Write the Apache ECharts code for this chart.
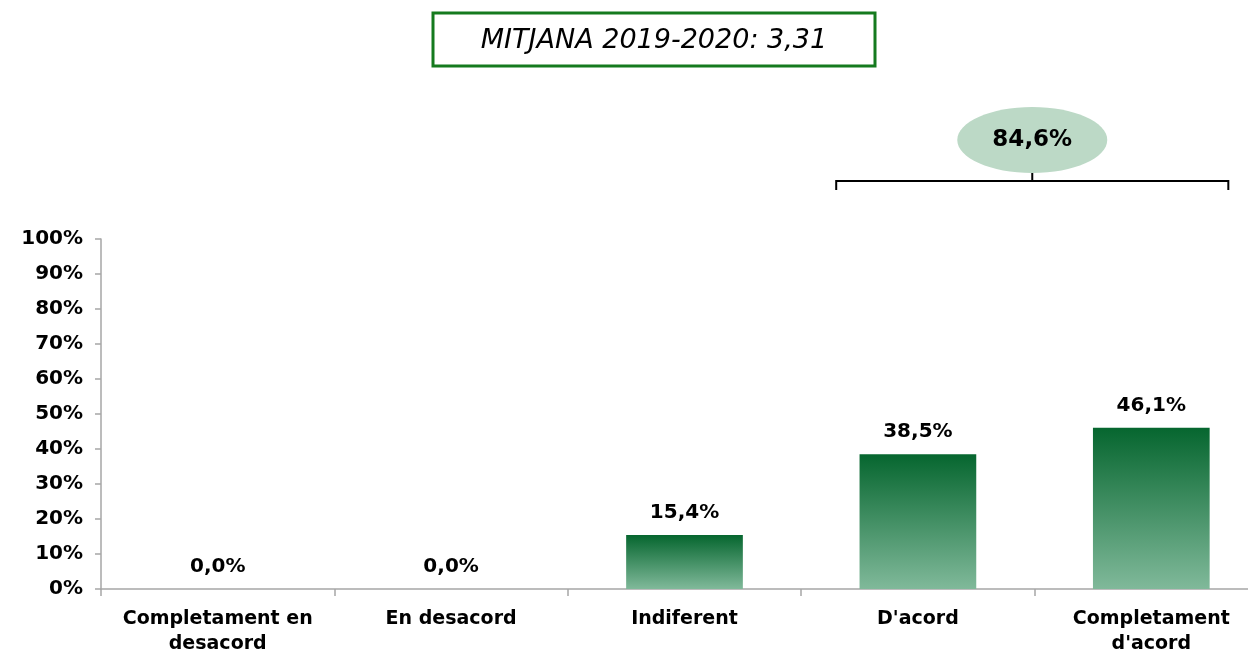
<!DOCTYPE html>
<html>
<head>
<meta charset="utf-8">
<script src="https://cdn.jsdelivr.net/npm/echarts@6/dist/echarts.min.js"></script>
<style>
  html, body { margin: 0; padding: 0; background: #fff; }
  #chart { width: 1248px; height: 652px; }
</style>
</head>
<body>
<div id="chart"></div>
<script>
var categories = ["Completament en\ndesacord", "En desacord", "Indiferent", "D'acord", "Completament\nd'acord"];
var values = [0.0, 0.0, 15.4, 38.5, 46.1];
var yTicks = [0, 10, 20, 30, 40, 50, 60, 70, 80, 90, 100];
var meanText = "MITJANA 2019-2020: 3,31";
var agreeIdx = [3, 4]; // categories summed in the bubble

var fontFam = "'DejaVu Sans', Verdana, sans-serif";

function pct(v) {
  return v.toFixed(1).replace(".", ",") + "%";
}

var chart = echarts.init(document.getElementById("chart"));

chart.setOption({
  animation: false,
  grid: {
    left: 101,
    top: 239,
    width: 1167,
    height: 350,
    outerBoundsMode: "none",
    containLabel: false,
  },
  xAxis: {
    type: "category",
    data: categories,
    axisLine: { lineStyle: { color: "#a6a6a6", width: 1.5 } },
    axisTick: { show: true, length: 7, lineStyle: { color: "#a6a6a6", width: 1.5 } },
    axisLabel: {
      color: "#000",
      fontFamily: fontFam,
      fontWeight: "bold",
      fontSize: 19,
      lineHeight: 25,
      margin: 18,
      interval: 0,
    },
  },
  yAxis: {
    type: "value",
    min: yTicks[0],
    max: yTicks[yTicks.length - 1],
    interval: 10,
    splitLine: { show: false },
    axisLine: { show: true, lineStyle: { color: "#a6a6a6", width: 1.5 } },
    axisTick: { show: true, length: 6, lineStyle: { color: "#a6a6a6", width: 1.5 } },
    axisLabel: {
      color: "#000",
      fontFamily: fontFam,
      fontWeight: "bold",
      fontSize: 20,
      margin: 18,
      formatter: "{value}%",
    },
  },
  series: [
    {
      type: "bar",
      data: values,
      barWidth: "50%",
      itemStyle: {
        color: new echarts.graphic.LinearGradient(0, 0, 0, 1, [
          { offset: 0, color: "#06662f" },
          { offset: 1, color: "#80b99a" },
        ]),
      },
      label: {
        show: true,
        position: "top",
        distance: 12,
        color: "#000",
        fontFamily: fontFam,
        fontWeight: "bold",
        fontSize: 20,
        formatter: function (p) {
          return pct(p.value);
        },
      },
    },
  ],
});

// annotations: title box + bracket with bubble over the "agree" bars
var total = 0;
agreeIdx.forEach(function (i) { total += values[i]; });

var c1 = chart.convertToPixel({ xAxisIndex: 0 }, categories[agreeIdx[0]]);
var c2 = chart.convertToPixel({ xAxisIndex: 0 }, categories[agreeIdx[agreeIdx.length - 1]]);
var band = 1167 / categories.length;
var bx1 = c1 - band * 0.35;
var bx2 = c2 + band * 0.33;
var bmid = (bx1 + bx2) / 2;
var by = 181;

chart.setOption({
  graphic: [
    {
      type: "rect",
      shape: { x: 433, y: 13, width: 442, height: 53 },
      style: { fill: "#fff", stroke: "#157a1e", lineWidth: 3 },
    },
    {
      type: "text",
      x: 654,
      y: 41,
      style: {
        text: meanText,
        fill: "#000",
        font: "italic 27px " + fontFam,
        align: "center",
        verticalAlign: "middle",
      },
    },
    {
      type: "polyline",
      shape: {
        points: [[bx1, by + 9], [bx1, by], [bx2, by], [bx2, by + 9]],
      },
      style: { stroke: "#000", lineWidth: 2, fill: null },
    },
    {
      type: "line",
      shape: { x1: bmid, y1: by, x2: bmid, y2: by - 9 },
      style: { stroke: "#000", lineWidth: 2 },
    },
    {
      type: "ellipse",
      shape: { cx: bmid, cy: 140, rx: 75, ry: 33 },
      style: { fill: "#bcd9c6" },
    },
    {
      type: "text",
      x: bmid,
      y: 140,
      style: {
        text: pct(total),
        fill: "#000",
        font: "bold 23px " + fontFam,
        align: "center",
        verticalAlign: "middle",
      },
    },
  ],
});
</script>
</body>
</html>
